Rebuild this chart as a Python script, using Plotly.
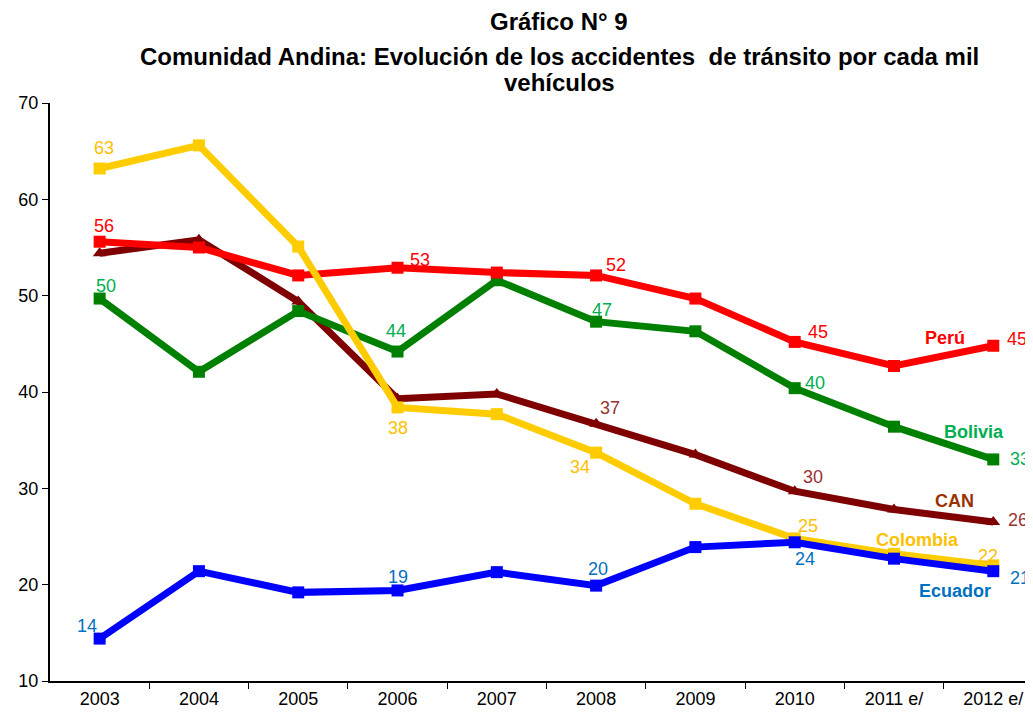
import plotly.graph_objects as go

years = ["2003", "2004", "2005", "2006", "2007", "2008", "2009", "2010", "2011 e/", "2012 e/"]
peru = [55.6, 55.0, 52.1, 52.9, 52.4, 52.1, 49.7, 45.2, 42.7, 44.8]
bolivia = [49.7, 42.1, 48.4, 44.2, 51.6, 47.3, 46.3, 40.4, 36.4, 33.0]
can = [54.4, 55.8, 49.4, 39.3, 39.8, 36.7, 33.5, 29.7, 27.8, 26.5]
colombia = [63.2, 65.6, 55.1, 38.4, 37.7, 33.7, 28.4, 24.8, 23.2, 22.0]
ecuador = [14.4, 21.4, 19.2, 19.4, 21.3, 19.9, 23.9, 24.4, 22.7, 21.4]

series = [
    ("CAN", can, "#7F0000", "triangle-up", "#993333"),
    ("Bolivia", bolivia, "#008000", "square", "#00B050"),
    ("Perú", peru, "#FF0000", "square", "#FF0000"),
    ("Colombia", colombia, "#FFCC00", "square", "#FFC000"),
    ("Ecuador", ecuador, "#0000FF", "square", "#0070C0"),
]

FONT = "Liberation Sans, Arial, sans-serif"
xi = list(range(len(years)))

fig = go.Figure()
for name, vals, col, sym, _ in series:
    fig.add_trace(go.Scatter(
        x=xi, y=vals, mode="lines+markers", name=name,
        line=dict(color=col, width=7),
        marker=dict(symbol=sym, size=12, color=col),
        showlegend=False,
    ))

# data labels: (index, xshift, yshift)
label_pos = {
    "Perú": [(0, 4, 16), (3, 22, 8), (5, 20, 10), (7, 23, 10), (9, 24, 7)],
    "Bolivia": [(0, 6, 13), (3, -2, 21), (5, 6, 12), (7, 20, 5), (9, 27, 0)],
    "CAN": [(5, 14, 16), (7, 18, 14), (9, 25, 2)],
    "Colombia": [(0, 4, 21), (3, 0, -21), (5, -16, -14), (7, 13, 12), (9, -5, 9)],
    "Ecuador": [(0, -13, 13), (3, 0, 13), (5, 2, 17), (7, 10, -17), (9, 27, -7)],
}
for name, vals, col, sym, lcol in series:
    for idx, xs, ys in label_pos[name]:
        fig.add_annotation(
            x=xi[idx], y=vals[idx], text=str(round(vals[idx])),
            xref="x", yref="y", showarrow=False, xshift=xs, yshift=ys,
            font=dict(family=FONT, size=18, color=lcol),
        )

# series name labels
name_labels = [
    ("Perú", 8.51, 45.6, "#FF0000"),
    ("Bolivia", 8.81, 35.8, "#00B050"),
    ("CAN", 8.61, 28.7, "#993300"),
    ("Colombia", 8.24, 24.6, "#FFC000"),
    ("Ecuador", 8.61, 19.3, "#0070C0"),
]
for txt, xv, yv, col in name_labels:
    fig.add_annotation(
        x=xv, y=yv, text="<b>%s</b>" % txt, xref="x", yref="y", showarrow=False,
        font=dict(family=FONT, size=18, color=col),
    )

# title (plot area spans page y pixels 103..681, x pixels 50..1033)
titles = [
    ("Gráfico N° 9", 22),
    ("Comunidad Andina: Evolución de los accidentes  de tránsito por cada mil", 57),
    ("vehículos", 83),
]
for txt, ypx in titles:
    fig.add_annotation(
        x=(559 - 50) / 983, y=(681 - ypx) / 578, xref="paper", yref="paper",
        text="<b>%s</b>" % txt, showarrow=False, xanchor="center", yanchor="middle",
        font=dict(family=FONT, size=24, color="black"),
    )

# page body has an 8px offset; size figure to fit the viewport
fig.update_layout(
    width=1025, height=707,
    margin=dict(l=42, r=0, t=95, b=34),
    paper_bgcolor="white", plot_bgcolor="white",
    font=dict(family=FONT, size=18, color="black"),
)
fig.update_xaxes(
    type="linear", tickmode="array", tickvals=xi, ticktext=years,
    range=[-0.5, 9.4], ticks="", showline=True, linecolor="black", linewidth=2,
    showgrid=False, zeroline=False, tickfont=dict(size=18, color="black"),
    automargin=False,
    minor=dict(tickmode="array", tickvals=[i + 0.5 for i in xi[:-1]],
               ticks="outside", ticklen=6, tickcolor="black", showgrid=False),
)
fig.update_yaxes(
    range=[10, 70], dtick=10, ticks="outside", ticklen=6, tickcolor="black",
    showline=True, linecolor="black", linewidth=2, showgrid=False, zeroline=False,
    tickfont=dict(size=18, color="black"), automargin=False,
)

fig.write_html("out.html")
